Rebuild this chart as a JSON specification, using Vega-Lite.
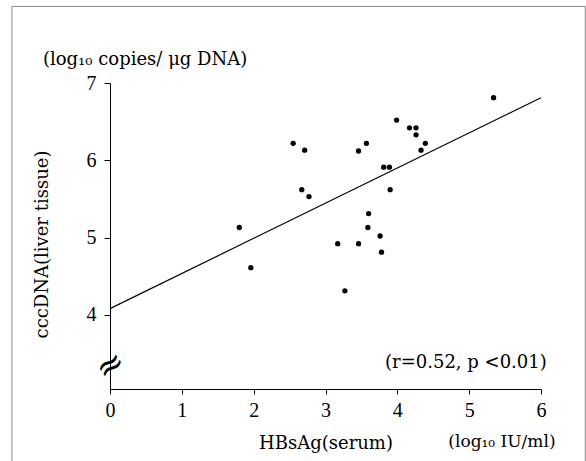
{
  "$schema": "https://vega.github.io/schema/vega-lite/v6.json",
  "width": 431,
  "height": 306,
  "autosize": {"type": "none"},
  "padding": {"left": 110, "top": 83, "right": 45, "bottom": 72},
  "background": "white",
  "config": {
    "view": {"stroke": null},
    "axis": {
      "domainColor": "black",
      "tickColor": "black",
      "labelColor": "black",
      "titleColor": "black",
      "labelFont": "Liberation Serif",
      "titleFont": "DejaVu Serif",
      "titleFontWeight": "normal",
      "grid": false
    }
  },
  "datasets": {
    "points": [
      {"hbsag": 1.80, "cccdna": 5.13},
      {"hbsag": 1.96, "cccdna": 4.61},
      {"hbsag": 2.55, "cccdna": 6.22},
      {"hbsag": 2.71, "cccdna": 6.13},
      {"hbsag": 2.67, "cccdna": 5.62},
      {"hbsag": 2.77, "cccdna": 5.53},
      {"hbsag": 3.17, "cccdna": 4.92},
      {"hbsag": 3.27, "cccdna": 4.31},
      {"hbsag": 3.46, "cccdna": 6.12},
      {"hbsag": 3.57, "cccdna": 6.22},
      {"hbsag": 3.46, "cccdna": 4.92},
      {"hbsag": 3.60, "cccdna": 5.31},
      {"hbsag": 3.59, "cccdna": 5.13},
      {"hbsag": 3.76, "cccdna": 5.02},
      {"hbsag": 3.78, "cccdna": 4.81},
      {"hbsag": 3.81, "cccdna": 5.91},
      {"hbsag": 3.89, "cccdna": 5.91},
      {"hbsag": 3.90, "cccdna": 5.62},
      {"hbsag": 3.99, "cccdna": 6.52},
      {"hbsag": 4.17, "cccdna": 6.42},
      {"hbsag": 4.26, "cccdna": 6.42},
      {"hbsag": 4.26, "cccdna": 6.33},
      {"hbsag": 4.39, "cccdna": 6.22},
      {"hbsag": 4.33, "cccdna": 6.13},
      {"hbsag": 5.34, "cccdna": 6.81}
    ],
    "fit": [
      {"hbsag": 0, "cccdna": 4.08},
      {"hbsag": 6, "cccdna": 6.81}
    ],
    "leftlabels": [
      {"x": -0.933, "y": 7.229, "label": "(log₁₀ copies/ μg DNA)", "size": 18},
      {"x": 4.71, "y": 2.293, "label": "(log₁₀ IU/ml)", "size": 17}
    ],
    "rightlabels": [
      {"x": 6.08, "y": 3.314, "label": "(r=0.52, p <0.01)", "size": 18}
    ],
    "frame": [
      {"x": -1.365, "x2": 6.616, "y": 7.991, "y2": 2.0}
    ]
  },
  "layer": [
    {
      "data": {"name": "frame"},
      "mark": {"type": "rect", "fill": null, "stroke": "#8a8a8a", "strokeWidth": 1, "clip": false},
      "encoding": {
        "x": {"field": "x", "type": "quantitative"},
        "x2": {"field": "x2"},
        "y": {"field": "y", "type": "quantitative"},
        "y2": {"field": "y2"}
      }
    },
    {
      "data": {"name": "points"},
      "mark": {"type": "point", "filled": true, "color": "black", "size": 28, "opacity": 1},
      "encoding": {
        "x": {
          "field": "hbsag", "type": "quantitative",
          "scale": {"domain": [0, 6], "nice": false, "zero": false},
          "axis": {
            "values": [0, 1, 2, 3, 4, 5, 6],
            "format": "d",
            "title": "HBsAg(serum)",
            "titleFontSize": 18,
            "titlePadding": 14,
            "labelFontSize": 20,
            "labelPadding": 6,
            "tickSize": 5,
            "labelFlush": false
          }
        },
        "y": {
          "field": "cccdna", "type": "quantitative",
          "scale": {"domain": [3.04, 7], "nice": false, "zero": false},
          "axis": {
            "values": [4, 5, 6, 7],
            "format": "d",
            "title": "cccDNA(liver tissue)",
            "titleFontSize": 18,
            "titleAngle": -90,
            "titleAlign": "center",
            "titleBaseline": "alphabetic",
            "titleX": -63,
            "titleY": 161,
            "labelFontSize": 20,
            "labelPadding": 8,
            "tickSize": 6,
            "labelFlush": false
          }
        }
      }
    },
    {
      "data": {"name": "fit"},
      "mark": {"type": "line", "color": "black", "strokeWidth": 1.2},
      "encoding": {
        "x": {"field": "hbsag", "type": "quantitative"},
        "y": {"field": "cccdna", "type": "quantitative"}
      }
    },
    {
      "data": {"name": "leftlabels"},
      "mark": {"type": "text", "font": "DejaVu Serif", "color": "black", "align": "left", "baseline": "alphabetic", "clip": false},
      "encoding": {
        "x": {"field": "x", "type": "quantitative"},
        "y": {"field": "y", "type": "quantitative"},
        "text": {"field": "label"},
        "size": {"field": "size", "type": "quantitative", "scale": null}
      }
    },
    {
      "data": {"name": "rightlabels"},
      "mark": {"type": "text", "font": "DejaVu Serif", "color": "black", "align": "right", "baseline": "alphabetic", "clip": false},
      "encoding": {
        "x": {"field": "x", "type": "quantitative"},
        "y": {"field": "y", "type": "quantitative"},
        "text": {"field": "label"},
        "size": {"field": "size", "type": "quantitative", "scale": null}
      }
    },
    {
      "data": {"values": [{"x": 0.01, "y": 3.34, "s": "≈"}]},
      "mark": {"type": "text", "font": "DejaVu Serif", "fontSize": 34, "angle": -35, "color": "black", "align": "center", "baseline": "middle"},
      "encoding": {
        "x": {"field": "x", "type": "quantitative"},
        "y": {"field": "y", "type": "quantitative"},
        "text": {"field": "s"}
      }
    }
  ]
}
